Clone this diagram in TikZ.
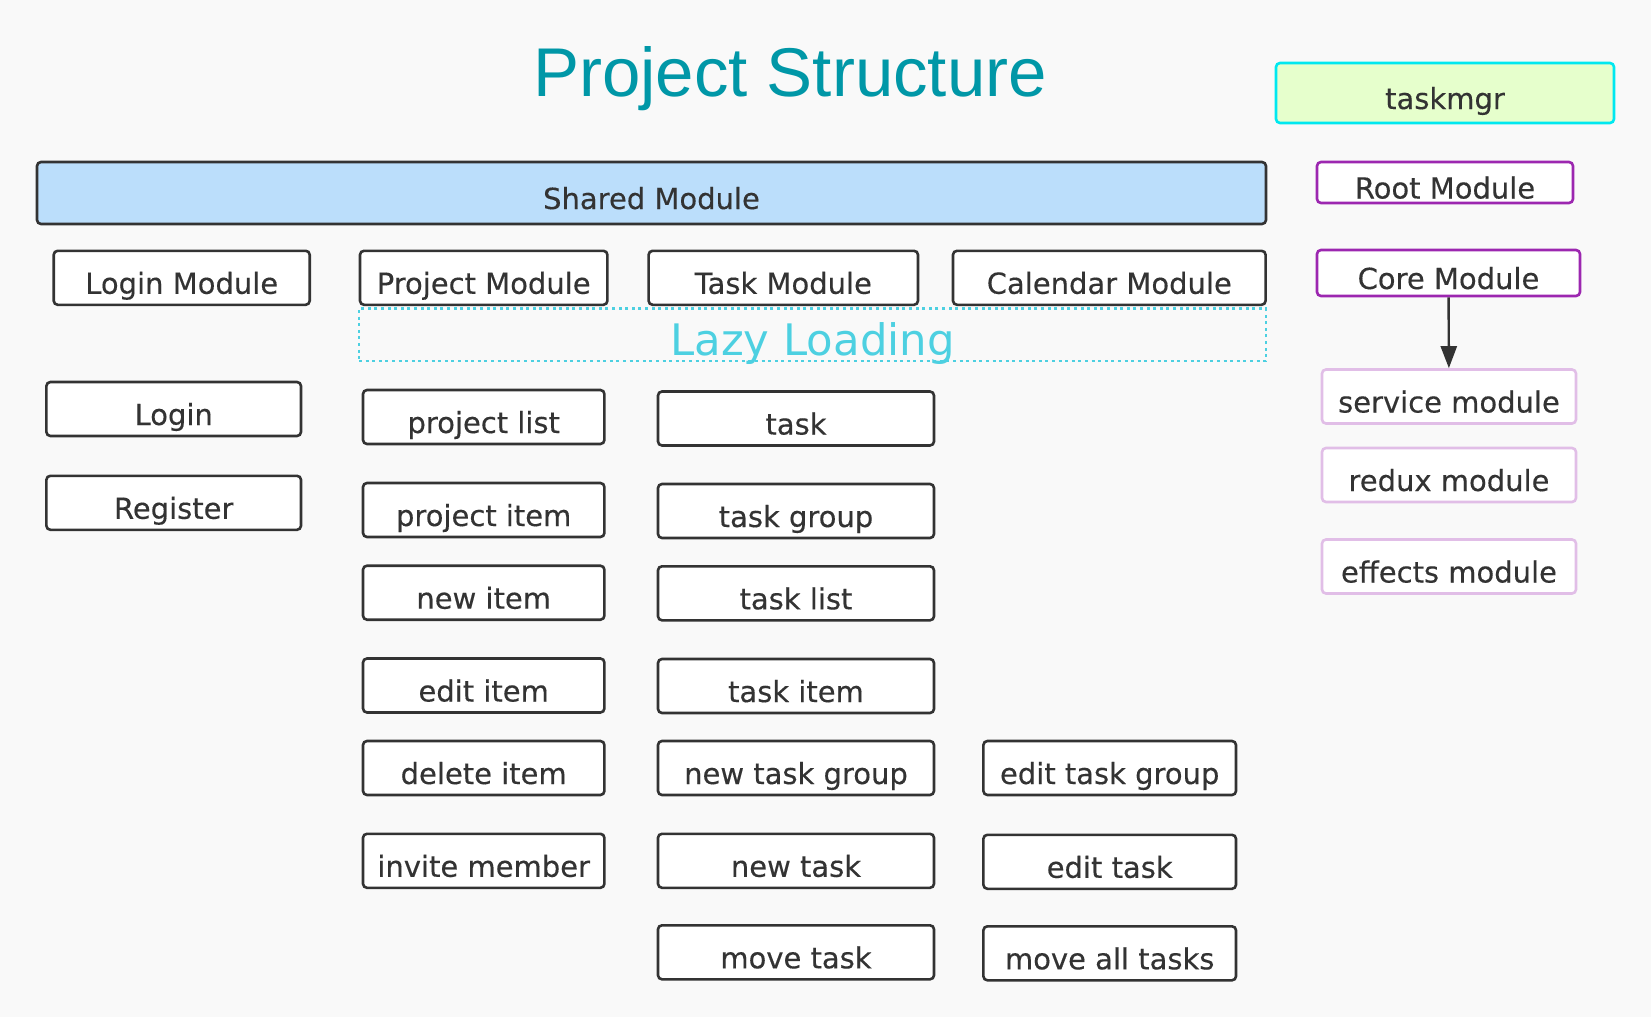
\documentclass[tikz,border=0pt]{standalone}
\usepackage{fontspec}
\newfontfamily\boxfamily[FakeBold=0.3]{DejaVu Sans}
\newfontfamily\lazyfamily{DejaVu Sans}
\newfontfamily\titlefamily{Liberation Sans}
\usepackage{xcolor}
\definecolor{bgGray}{RGB}{249,249,249}
\definecolor{boxGray}{RGB}{51,51,51}
\definecolor{sharedBlue}{RGB}{187,222,251}
\definecolor{titleTeal}{RGB}{0,151,167}
\definecolor{lazyCyan}{RGB}{77,208,225}
\definecolor{mgrCyan}{RGB}{0,232,240}
\definecolor{mgrGreen}{RGB}{230,255,204}
\definecolor{corePurple}{RGB}{156,39,176}
\definecolor{subPurple}{RGB}{225,190,231}
\usepackage{tikz}
\usetikzlibrary{arrows.meta,positioning}
\tikzstyle{modnode}=[rectangle, draw=boxGray, fill=white, line width=1.3pt, rounded corners=2pt, minimum height=27pt, inner sep=0pt, text height=17pt, text depth=1pt, text=boxGray, font={\boxfamily\fontsize{14.5pt}{17pt}\selectfont}]
\tikzstyle{rootnode}=[modnode, draw=corePurple]
\tikzstyle{subnode}=[modnode, draw=subPurple]
\tikzstyle{linkarrow}=[-{Triangle[length=11pt,width=8pt]}, line width=1.2pt, color=boxGray]

\begin{document}
\begin{tikzpicture}[x=0.5pt, y=-0.5pt]
    \fill[bgGray] (0,0) rectangle (1651,1017);
    \useasboundingbox (0,0) rectangle (1651,1017);

    % Título
    \node[anchor=base, text=titleTeal, font={\titlefamily\fontsize{34.5pt}{40pt}\selectfont}] (title) at (790,97) {Project Structure};

    % Módulos principais
    \node[modnode, fill=sharedBlue, minimum width=614.5pt, minimum height=31pt] (shared) at (651.5,193) {Shared Module};
    \node[modnode, minimum width=128pt] (loginmod) at (181.7,277.8) {Login Module};
    \node[modnode, minimum width=123.7pt] (projmod) at (483.7,277.8) {Project Module};
    \node[modnode, minimum width=134.7pt] (taskmod) at (783.3,277.8) {Task Module};
    \node[modnode, minimum width=156.3pt] (calmod) at (1109.3,277.8) {Calendar Module};

    % Carregamento tardio
    \node[rectangle, draw=lazyCyan, line width=1.3pt, dash pattern=on 1.5pt off 1.8pt, minimum width=453.5pt, minimum height=26.2pt, inner sep=0pt, text height=22pt, text depth=1pt, text=lazyCyan, font={\lazyfamily\fontsize{21.7pt}{24pt}\selectfont}] (lazy) at (812.5,334.8) {Lazy Loading};

    % Coluna de login
    \node[modnode, minimum width=127.3pt] (login) at (173.7,409) {Login};
    \node[modnode, minimum width=127.3pt] (register) at (173.7,502.8) {Register};

    % Coluna de projetos
    \node[modnode, minimum width=120.7pt] (plist) at (483.7,417) {project list};
    \node[modnode, minimum width=120.7pt] (pitem) at (483.7,510) {project item};
    \node[modnode, minimum width=120.7pt] (pnew) at (483.7,592.7) {new item};
    \node[modnode, minimum width=120.7pt] (pedit) at (483.7,685.5) {edit item};
    \node[modnode, minimum width=120.7pt] (pdelete) at (483.7,768) {delete item};
    \node[modnode, minimum width=120.7pt] (pinvite) at (483.7,860.8) {invite member};

    % Coluna de tarefas
    \node[modnode, minimum width=138pt] (task) at (796,418.5) {task};
    \node[modnode, minimum width=138pt] (tgroup) at (796,511) {task group};
    \node[modnode, minimum width=138pt] (tlist) at (796,593.3) {task list};
    \node[modnode, minimum width=138pt] (titem) at (796,686) {task item};
    \node[modnode, minimum width=138pt] (tnewgroup) at (796,768) {new task group};
    \node[modnode, minimum width=138pt] (tnew) at (796,860.8) {new task};
    \node[modnode, minimum width=138pt] (tmove) at (796,952.3) {move task};

    % Coluna de edição
    \node[modnode, minimum width=126.3pt] (teditgroup) at (1109.7,768) {edit task group};
    \node[modnode, minimum width=126.3pt] (tedit) at (1109.7,861.8) {edit task};
    \node[modnode, minimum width=126.3pt] (tmoveall) at (1109.7,953.3) {move all tasks};

    % Módulo raiz
    \node[modnode, draw=mgrCyan, fill=mgrGreen, minimum width=169pt, minimum height=30pt] (taskmgr) at (1445,93) {taskmgr};
    \node[rootnode, minimum width=128pt, minimum height=20.5pt] (rootmod) at (1445,182.5) {Root Module};
    \node[rootnode, minimum width=131.5pt, minimum height=23pt] (coremod) at (1448.5,273) {Core Module};
    \node[subnode, minimum width=127pt] (service) at (1449,396.5) {service module};
    \node[subnode, minimum width=127pt] (redux) at (1449,475) {redux module};
    \node[subnode, minimum width=127pt] (effects) at (1449,566.5) {effects module};

    % Seta
    \draw[linkarrow] (coremod) -- (service);
  \end{tikzpicture}
\end{document}
